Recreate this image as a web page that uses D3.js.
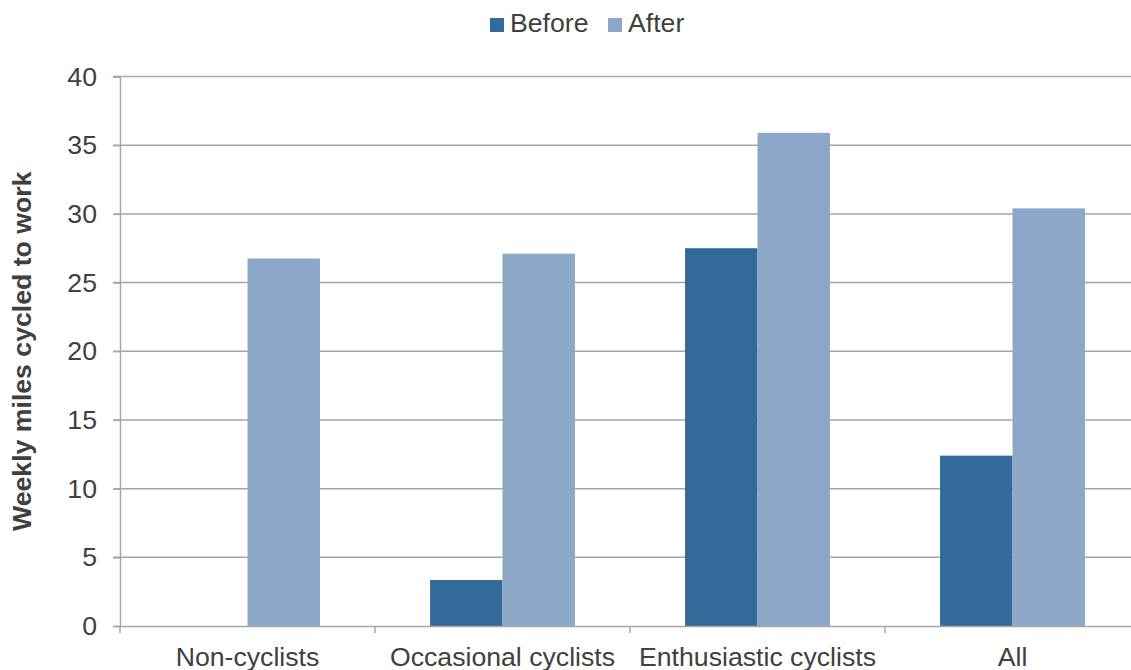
<!DOCTYPE html>
<html>
<head>
<meta charset="utf-8">
<script src="https://cdn.jsdelivr.net/npm/d3@7"></script>
<style>
  body { margin: 0; background: #fff; overflow: hidden; }
  svg text { font-family: "Liberation Sans", Arial, sans-serif; fill: #404040; }
</style>
</head>
<body>
<svg id="chart"></svg>
<script>
// Categories and series
const categories = ["Non-cyclists", "Occasional cyclists", "Enthusiastic cyclists", "All"];
const seriesNames = ["Before", "After"];
const beforeValues = [0, 3.35, 27.5, 12.4];
const afterValues = [26.75, 27.1, 35.9, 30.4];
const yTicks = [0, 5, 10, 15, 20, 25, 30, 35, 40];

const colors = { Before: "#336a9a", After: "#8ca7c7" };
const fontSize = "26.67px";

// Plot area (the last category runs past the right edge, like the original)
let width = 1131, height = 670;
let plotLeft = 120, plotRight = 1140, plotTop = 76.5, plotBottom = 626;

let svg = d3.select("#chart").attr("width", width).attr("height", height);

let xScale = d3.scaleBand().domain(categories).range([plotLeft, plotRight]);
let inner = d3.scaleBand().domain(seriesNames)
    .range([0, xScale.bandwidth()]).paddingOuter(0.76);
let yScale = d3.scaleLinear().domain([0, 40]).range([plotBottom, plotTop]);

// Gridlines
svg.append("g")
    .selectAll("line")
    .data(yTicks.filter(d => d > 0))
    .enter()
    .append("line")
    .attr("x1", plotLeft - 7)
    .attr("x2", width)
    .attr("y1", d => yScale(d))
    .attr("y2", d => yScale(d))
    .attr("stroke", "#a6a6a6")
    .attr("stroke-width", 1.5);

// Bars
let rows = categories.map((c, i) => ({ cat: c, Before: beforeValues[i], After: afterValues[i] }));
let groups = svg.append("g")
    .selectAll("g")
    .data(rows)
    .enter()
    .append("g")
    .attr("transform", d => `translate(${xScale(d.cat)},0)`);

groups.selectAll("rect")
    .data(d => seriesNames.map(s => ({ key: s, value: d[s] })))
    .enter()
    .append("rect")
    .attr("x", d => inner(d.key))
    .attr("width", inner.bandwidth())
    .attr("y", d => yScale(d.value))
    .attr("height", d => yScale(0) - yScale(d.value))
    .attr("fill", d => colors[d.key]);

// Y axis
let yAxis = d3.axisLeft(yScale).tickValues(yTicks).tickSize(7).tickPadding(16);
let yG = svg.append("g")
    .attr("transform", `translate(${plotLeft},0)`)
    .call(yAxis);
yG.select(".domain").attr("stroke", "#a6a6a6").attr("stroke-width", 1.5);
yG.selectAll(".tick line").attr("stroke", "#a6a6a6").attr("stroke-width", 1.5);
yG.selectAll(".tick text").style("font-size", fontSize).attr("fill", "#404040");

// X axis
let xAxis = d3.axisBottom(xScale).tickSize(0).tickPadding(21);
let xG = svg.append("g")
    .attr("transform", `translate(0,${plotBottom})`)
    .call(xAxis);
xG.select(".domain").attr("stroke", "#a6a6a6").attr("stroke-width", 1.5);
xG.selectAll(".tick text").style("font-size", fontSize).attr("fill", "#404040");

// Category separator ticks
svg.append("g")
    .selectAll("line")
    .data(categories)
    .enter()
    .append("line")
    .attr("x1", d => xScale(d))
    .attr("x2", d => xScale(d))
    .attr("y1", plotBottom)
    .attr("y2", plotBottom + 7)
    .attr("stroke", "#a6a6a6")
    .attr("stroke-width", 1.5);

// Y axis title
svg.append("text")
    .attr("transform", `translate(31, ${(plotTop + plotBottom) / 2}) rotate(-90)`)
    .attr("text-anchor", "middle")
    .style("font-size", fontSize)
    .style("font-weight", "bold")
    .text("Weekly miles cycled to work");

// Legend
let legendX = [490, 608];
let legend = svg.append("g")
    .selectAll("g")
    .data(seriesNames)
    .enter()
    .append("g")
    .attr("transform", (d, i) => `translate(${legendX[i]},18)`);
legend.append("rect")
    .attr("width", 14)
    .attr("height", 14)
    .attr("fill", d => colors[d]);
legend.append("text")
    .attr("x", 20)
    .attr("y", 14)
    .style("font-size", fontSize)
    .text(d => d);
</script>
</body>
</html>
